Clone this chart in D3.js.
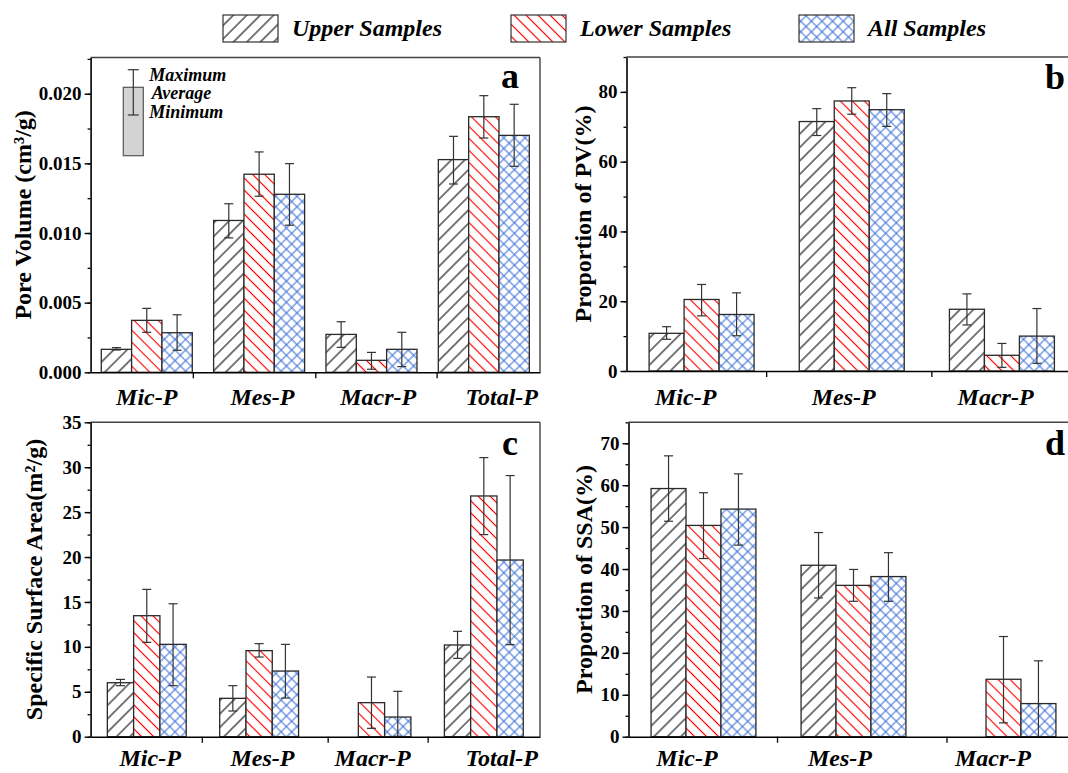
<!DOCTYPE html>
<html>
<head>
<meta charset="utf-8">
<script src="https://cdn.jsdelivr.net/npm/d3@7"></script>
<style>
  body { margin: 0; background: #fff; }
  svg { display: block; }
  text { font-family: "Liberation Serif", "Times New Roman", serif; font-weight: bold; fill: #000; }
</style>
</head>
<body>
<svg id="chart" width="1068" height="773"></svg>
<script>
// ---- categories ----
const poreGroups = ["Mic-P", "Mes-P", "Macr-P", "Total-P"];
const shareGroups = ["Mic-P", "Mes-P", "Macr-P"];
const seriesNames = ["Upper Samples", "Lower Samples", "All Samples"];

// ---- values: one entry per pore class, as [average, minimum, maximum] ----
// (a) pore volume, cm3/g
const pvUpper = [[0.00165, 0.0016, 0.00177], [0.0109, 0.00965, 0.0121], [0.00272, 0.00179, 0.00363], [0.01527, 0.01352, 0.01694]];
const pvLower = [[0.00373, 0.00287, 0.00459], [0.01422, 0.01264, 0.01582], [0.00086, 0.00022, 0.00143], [0.01835, 0.01682, 0.01986]];
const pvAll   = [[0.00284, 0.00158, 0.00413], [0.01278, 0.01056, 0.01498], [0.00165, 0.00041, 0.00287], [0.01701, 0.01479, 0.01924]];
// (b) proportion of pore volume, %
const pvShareUpper = [[10.8, 9.1, 12.7], [71.5, 67.5, 75.2], [17.7, 13.2, 22.1]];
const pvShareLower = [[20.5, 15.8, 24.8], [77.4, 73.6, 81.2], [4.5, 1.05, 7.9]];
const pvShareAll   = [[16.2, 10.1, 22.4], [74.9, 70.1, 79.5], [10.0, 2.2, 17.9]];
// (c) specific surface area, m2/g
const ssaUpper = [[6.01, 5.68, 6.38], [4.27, 2.86, 5.68], [0, 0, 0], [10.21, 8.72, 11.73]];
const ssaLower = [[13.47, 10.5, 16.4], [9.58, 8.87, 10.36], [3.79, 0.93, 6.64], [26.8, 22.5, 31.07]];
const ssaAll   = [[10.28, 5.68, 14.8], [7.31, 4.3, 10.28], [2.19, 0.05, 5.05], [19.67, 10.25, 29.07]];
// (d) proportion of specific surface area, %
const ssaShareUpper = [[59.2, 51.4, 67.0], [40.9, 33.1, 48.7], [0, 0, 0]];
const ssaShareLower = [[50.4, 42.5, 58.2], [36.1, 32.3, 39.9], [13.7, 3.3, 23.9]];
const ssaShareAll   = [[54.3, 45.7, 62.7], [38.2, 32.3, 43.9], [7.9, 0, 18.1]];

// ---- tick labels ----
const pvTicks = [0, 0.005, 0.010, 0.015, 0.020];
const pvShareTicks = [0, 20, 40, 60, 80];
const ssaTicks = [0, 5, 10, 15, 20, 25, 30, 35];
const ssaShareTicks = [0, 10, 20, 30, 40, 50, 60, 70];

const svg = d3.select("#chart");
const defs = svg.append("defs");

// hatch fills for the three sample sets
function linePattern(id, angle, gap, color, width, cross) {
  const p = defs.append("pattern")
    .attr("id", id).attr("patternUnits", "userSpaceOnUse")
    .attr("width", gap).attr("height", gap)
    .attr("patternTransform", `rotate(${angle})`);
  p.append("rect").attr("width", gap).attr("height", gap).attr("fill", "#fff");
  p.append("line").attr("x1", gap / 2).attr("y1", -1).attr("x2", gap / 2).attr("y2", gap + 1)
    .attr("stroke", color).attr("stroke-width", width);
  if (cross) {
    p.append("line").attr("x1", -1).attr("y1", gap / 2).attr("x2", gap + 1).attr("y2", gap / 2)
      .attr("stroke", color).attr("stroke-width", width);
  }
}
linePattern("fillUpper", 45, 9.5, "#000", 1.05, false);
linePattern("fillLower", -45, 8.5, "#ff0000", 1.15, false);
linePattern("fillAll", 45, 7.5, "#3d72d8", 1.05, true);
const fills = ["url(#fillUpper)", "url(#fillLower)", "url(#fillAll)"];

// ---- top legend ----
const legend = svg.append("g");
seriesNames.forEach((name, j) => {
  const gx = 223 + j * 288;
  legend.append("rect").attr("x", gx).attr("y", 15).attr("width", 55).attr("height", 27)
    .attr("fill", fills[j]).attr("stroke", "#333").attr("stroke-width", 1.2);
  legend.append("text").attr("x", gx + 69).attr("y", 36)
    .attr("font-size", 24).attr("font-style", "italic").text(name);
});

// ---- panel layouts ----
const panels = [
  { groups: poreGroups, series: [pvUpper, pvLower, pvAll], yMax: 0.0226, ticks: pvTicks, minor: 0.0025,
    fmt: d3.format(".3f"), title: "Pore Volume (cm³/g)", letter: "a",
    box: { l: 90.6, r: 540, t: 57.5, b: 372.3 }, barFrac: 0.27,
    catTicks: [1.41, 2.5, 3.58], labelAt: [1.0, 2.03, 3.06, 4.16], labelDy: 33,
    titleX: 31, letterDx: 21, letterDy: 30.5, keyBox: true },
  { groups: shareGroups, series: [pvShareUpper, pvShareLower, pvShareAll], yMax: 90, ticks: pvShareTicks, minor: 10,
    fmt: d3.format("d"), title: "Proportion of PV(%)", letter: "b",
    box: { l: 626.5, r: 1077, t: 57, b: 371 }, barFrac: 0.233,
    catTicks: [1.43, 2.53], labelAt: [0.894, 1.946, 2.958], labelDy: 34,
    titleX: 591, letterDx: 12, letterDy: 32 },
  { groups: poreGroups, series: [ssaUpper, ssaLower, ssaAll], yMax: 35, ticks: ssaTicks, minor: 2.5,
    fmt: d3.format("d"), title: "Specific Surface Area(m²/g)", letter: "c",
    box: { l: 90.6, r: 540, t: 422.3, b: 736.7 }, barFrac: 0.234,
    catTicks: [1.49, 2.61, 3.5], labelAt: [1.03, 2.03, 3.01, 4.16], labelDy: 29,
    titleX: 42, letterDx: 22, letterDy: 33 },
  { groups: shareGroups, series: [ssaShareUpper, ssaShareLower, ssaShareAll], yMax: 75, ticks: ssaShareTicks, minor: 5,
    fmt: d3.format("d"), title: "Proportion of SSA(%)", letter: "d",
    box: { l: 628.5, r: 1078.5, t: 422.3, b: 736.7 }, barFrac: 0.233,
    catTicks: [1.49, 2.62], labelAt: [0.89, 1.91, 2.93], labelDy: 29,
    titleX: 592, letterDx: 13.5, letterDy: 33 }
];

panels.forEach(p => {
  const { l, r, t, b } = p.box;
  const n = p.groups.length;
  const x = d3.scaleLinear().domain([0.5, n + 0.5]).range([l, r]);
  const y = d3.scaleLinear().domain([0, p.yMax]).range([b, t]);
  const bw = (x(1) - x(0)) * p.barFrac;
  const g = svg.append("g");

  // frame: top and right edges
  g.append("line").attr("x1", l).attr("x2", r).attr("y1", t).attr("y2", t)
    .attr("stroke", "#444").attr("stroke-width", 1.4);
  g.append("line").attr("x1", r).attr("x2", r).attr("y1", t).attr("y2", b)
    .attr("stroke", "#444").attr("stroke-width", 1.4);

  // bars
  p.series.forEach((vals, j) => {
    vals.forEach((v, i) => {
      const [avg] = v;
      if (!(avg > 0)) return;
      const bx = x(i + 1) + (j - 1.5) * bw;
      g.append("rect").attr("x", bx).attr("y", y(avg))
        .attr("width", bw).attr("height", y(0) - y(avg))
        .attr("fill", fills[j]).attr("stroke", "#2a2a2a").attr("stroke-width", 1.3);
    });
  });

  // min / max whiskers
  p.series.forEach((vals, j) => {
    vals.forEach((v, i) => {
      const [avg, lo, hi] = v;
      if (!(avg > 0) || hi <= lo) return;
      const cx = x(i + 1) + (j - 1) * bw;
      g.append("line").attr("x1", cx).attr("x2", cx).attr("y1", y(lo)).attr("y2", y(hi))
        .attr("stroke", "#333").attr("stroke-width", 1.2);
      [lo, hi].forEach(val => {
        g.append("line").attr("x1", cx - 4.5).attr("x2", cx + 4.5)
          .attr("y1", y(val)).attr("y2", y(val))
          .attr("stroke", "#333").attr("stroke-width", 1.2);
      });
    });
  });

  // y axis: minor ticks, then major ticks with labels
  const minorVals = d3.range(0, p.yMax + 1e-9, p.minor);
  const minorAxis = g.append("g").attr("transform", `translate(${l},0)`)
    .call(d3.axisLeft(y).tickValues(minorVals).tickSize(3).tickFormat(""));
  minorAxis.select(".domain").remove();
  minorAxis.selectAll("line").attr("stroke", "#000").attr("stroke-width", 1.3);

  const yAxis = g.append("g").attr("transform", `translate(${l},0)`)
    .call(d3.axisLeft(y).tickValues(p.ticks).tickSize(6).tickSizeOuter(0).tickPadding(3).tickFormat(p.fmt));
  yAxis.select(".domain").attr("stroke", "#000").attr("stroke-width", 1.6);
  yAxis.selectAll("line").attr("stroke", "#000").attr("stroke-width", 1.4);
  yAxis.selectAll("text").attr("font-size", 19)
    .style("font-family", "'Liberation Serif','Times New Roman',serif").style("font-weight", "bold");

  // x axis with separators between pore classes
  const xAxis = g.append("g").attr("transform", `translate(0,${b})`)
    .call(d3.axisBottom(x).tickValues(p.catTicks).tickSize(6).tickSizeOuter(0).tickFormat(""));
  xAxis.select(".domain").attr("stroke", "#000").attr("stroke-width", 1.6);
  xAxis.selectAll("line").attr("stroke", "#000").attr("stroke-width", 1.3);

  // category names
  p.groups.forEach((name, i) => {
    g.append("text").attr("x", x(p.labelAt[i])).attr("y", b + p.labelDy)
      .attr("text-anchor", "middle").attr("font-size", 24).attr("font-style", "italic")
      .text(name);
  });

  // axis title
  g.append("text")
    .attr("transform", `translate(${p.titleX},${(t + b) / 2}) rotate(-90)`)
    .attr("text-anchor", "middle").attr("font-size", 24).text(p.title);

  // panel letter
  g.append("text").attr("x", r - p.letterDx).attr("y", t + p.letterDy)
    .attr("text-anchor", "end").attr("font-size", 36).text(p.letter);

  // whisker key
  if (p.keyBox) {
    const k = g.append("g").attr("transform", `translate(${l},${t})`);
    k.append("rect").attr("x", 32.7).attr("y", 29.8).attr("width", 20).attr("height", 68.4)
      .attr("fill", "#d3d3d3").attr("stroke", "#555").attr("stroke-width", 1.2);
    k.append("line").attr("x1", 42.7).attr("x2", 42.7).attr("y1", 12.2).attr("y2", 57.5)
      .attr("stroke", "#333").attr("stroke-width", 1.2);
    [12.2, 57.5].forEach(yy => k.append("line").attr("x1", 37.2).attr("x2", 48.2)
      .attr("y1", yy).attr("y2", yy).attr("stroke", "#333").attr("stroke-width", 1.2));
    [["Maximum", 58.7, 23.5], ["Average", 61.1, 41.5], ["Minimum", 58.7, 60.5]].forEach(([s, tx, ty]) => {
      k.append("text").attr("x", tx).attr("y", ty).attr("font-size", 18)
        .attr("font-style", "italic").text(s);
    });
  }
});
</script>
</body>
</html>
